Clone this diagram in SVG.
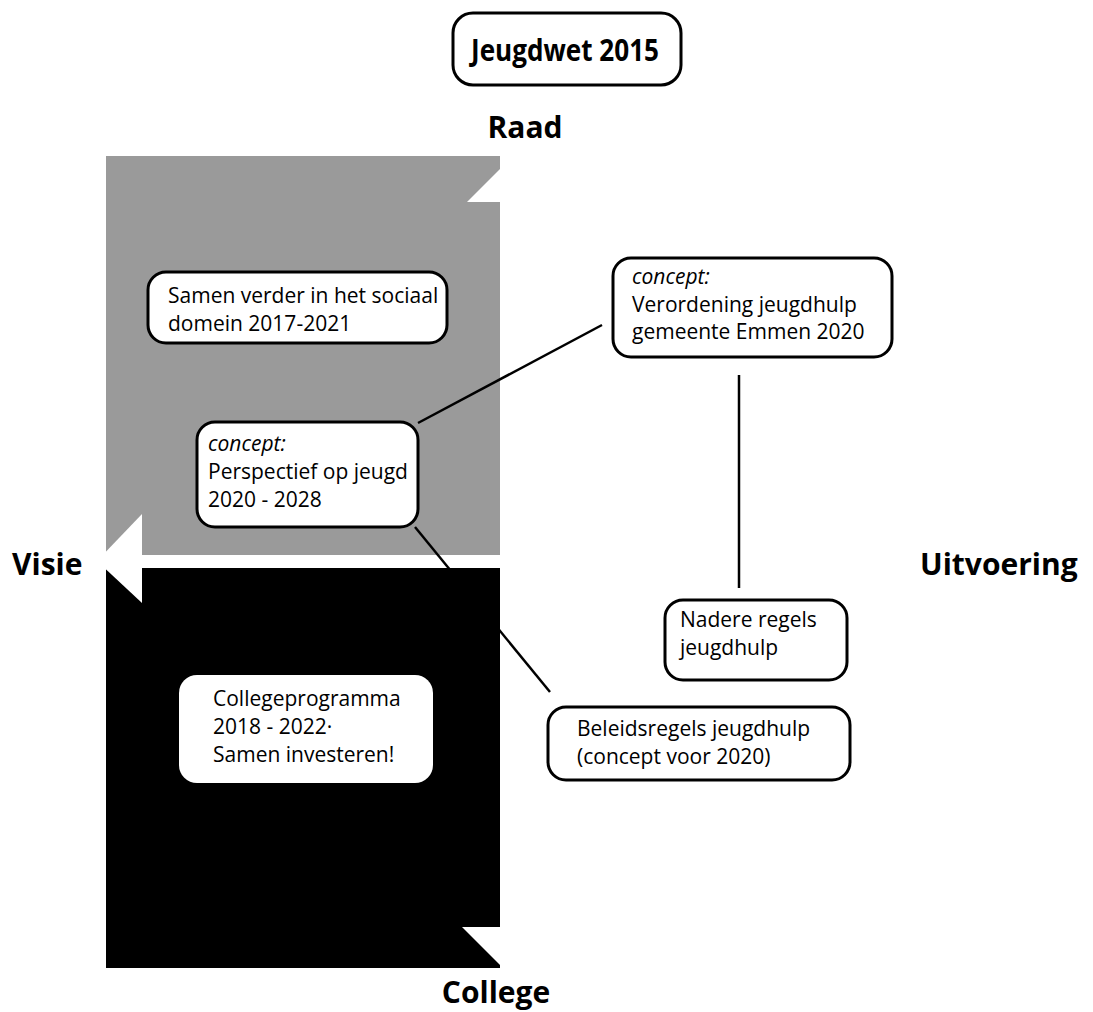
<svg xmlns="http://www.w3.org/2000/svg" width="1093" height="1012" viewBox="0 0 1093 1012">
<defs>
<style>
.box{fill:#fff;stroke:#000;stroke-width:3}
.cbox{fill:#fff;stroke:none}
.t{font-family:"Open Sans","Noto Sans","Liberation Sans",sans-serif;font-size:21px;fill:#000}
.it{font-style:italic}
.lab{font-family:"Open Sans","Noto Sans","Liberation Sans",sans-serif;font-size:30px;font-weight:bold;fill:#000}
.con{stroke:#000;stroke-width:2.5;fill:none}
</style>
</defs>
<rect width="1093" height="1012" fill="#fff"/>
<g id="quadrants">
<rect x="106" y="156" width="394" height="399" fill="#9a9a9a"/>
<rect x="106" y="568" width="394" height="400" fill="#000"/>
<polygon points="97,561 142,514 142,603" fill="#fff"/>
<polygon points="506,163 467,202 545,202" fill="#fff"/>
<polygon points="462,927 550,927 506,971" fill="#fff"/>
</g>
<g id="connectors">
<line class="con" x1="418" y1="423" x2="602" y2="325"/>
<line class="con" x1="415" y1="527" x2="550" y2="692"/>
<line class="con" x1="739" y1="375" x2="739" y2="588"/>
</g>
<g id="title">
<rect class="box" x="453" y="13" width="228" height="72" rx="20"/>
<text class="lab" x="471" y="61" textLength="188" lengthAdjust="spacingAndGlyphs" style="font-size:30px">Jeugdwet 2015</text>
</g>
<g id="label-raad"><text class="lab" x="525" y="138" text-anchor="middle">Raad</text></g>
<g id="label-visie"><text class="lab" x="12" y="575">Visie</text></g>
<g id="label-uitvoering"><text class="lab" x="920" y="575">Uitvoering</text></g>
<g id="label-college"><text class="lab" x="496" y="1003" text-anchor="middle">College</text></g>
<g id="node-samen">
<rect class="box" x="148" y="272" width="299" height="71" rx="18"/>
<text class="t" x="168" y="303">Samen verder in het sociaal</text>
<text class="t" x="168" y="331">domein 2017-2021</text>
</g>
<g id="node-perspectief">
<rect class="box" x="197" y="422" width="221" height="105" rx="18"/>
<text class="t it" x="208" y="451">concept:</text>
<text class="t" x="208" y="479">Perspectief op jeugd</text>
<text class="t" x="208" y="507">2020 - 2028</text>
</g>
<g id="node-verordening">
<rect class="box" x="613" y="258" width="279" height="99" rx="18"/>
<text class="t it" x="632" y="284">concept:</text>
<text class="t" x="632" y="312">Verordening jeugdhulp</text>
<text class="t" x="632" y="339">gemeente Emmen 2020</text>
</g>
<g id="node-nadere">
<rect class="box" x="665" y="600" width="182" height="80" rx="18"/>
<text class="t" x="680" y="627">Nadere regels</text>
<text class="t" x="680" y="655">jeugdhulp</text>
</g>
<g id="node-beleidsregels">
<rect class="box" x="548" y="707" width="302" height="73" rx="18"/>
<text class="t" x="577" y="736">Beleidsregels jeugdhulp</text>
<text class="t" x="577" y="764">(concept voor 2020)</text>
</g>
<g id="node-collegeprogramma">
<rect class="cbox" x="179" y="675" width="254" height="108" rx="18"/>
<text class="t" x="213" y="706">Collegeprogramma</text>
<text class="t" x="213" y="734">2018 - 2022·</text>
<text class="t" x="213" y="762">Samen investeren!</text>
</g>
</svg>
